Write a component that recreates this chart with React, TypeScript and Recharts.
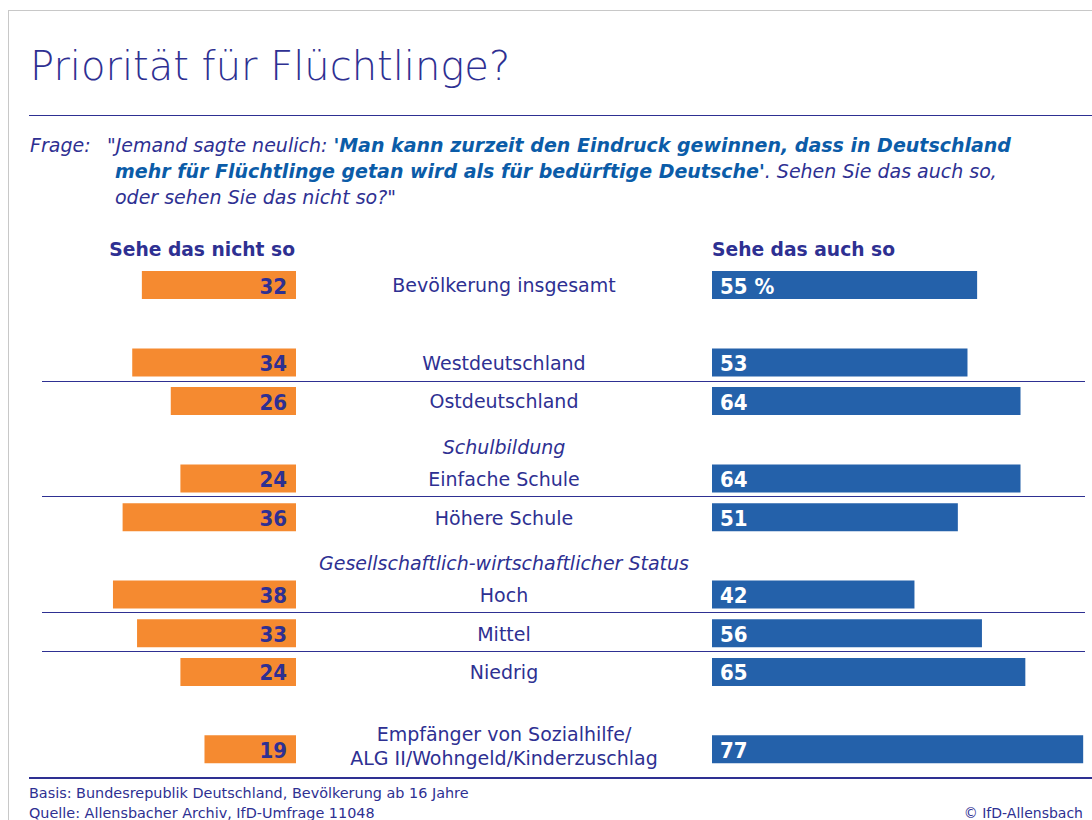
import React from "react";
import { BarChart, Bar, XAxis, YAxis, LabelList } from "recharts";

// rows top to bottom; "" = spacer row
const categories = [
  "Bevölkerung insgesamt",
  "",
  "Westdeutschland",
  "Ostdeutschland",
  "Schulbildung",
  "Einfache Schule",
  "Höhere Schule",
  "Gesellschaftlich-wirtschaftlicher Status",
  "Hoch",
  "Mittel",
  "Niedrig",
  "",
  "Empfänger von Sozialhilfe/\nALG II/Wohngeld/Kinderzuschlag",
];
const rowKinds = ["row", "gap", "row", "row", "header", "row", "row", "header", "row", "row", "row", "gap", "row"];
const nichtSo = [32, null, 34, 26, null, 24, 36, null, 38, 33, 24, null, 19];
const auchSo = [55, null, 53, 64, null, 64, 51, null, 42, 56, 65, null, 77];

const data = categories.map((c, i) => ({ id: i, label: c, nicht: nichtSo[i], auch: auchSo[i] }));

const INDIGO = "#2e3092";
const ORANGE = "#f58a30";
const BLUE = "#2461aa";
const FONT = "'DejaVu Sans', sans-serif";
const NUM_FONT = "'DejaVu Sans Condensed', 'DejaVu Sans', sans-serif";

const CHART_TOP = 266;
const CHART_H = 503;

const CenterTick = (props: any) => {
  const { x, y, payload } = props;
  const i = payload.value;
  const kind = rowKinds[i];
  const lines = categories[i].split("\n");
  const cx = x + 208;
  if (lines.length > 1) {
    return (
      <text x={cx} y={y} textAnchor="middle" fill={INDIGO} fontSize={19} fontFamily={FONT}>
        <tspan x={cx} dy={-16} dominantBaseline="central">{lines[0]}</tspan>
        <tspan x={cx} dy={24} dominantBaseline="central">{lines[1]}</tspan>
      </text>
    );
  }
  return (
    <text
      x={cx}
      y={kind === "header" ? y + 7 : y}
      textAnchor="middle"
      dominantBaseline="central"
      fill={INDIGO}
      fontSize={19}
      fontStyle={kind === "header" ? "italic" : "normal"}
      fontFamily={FONT}
    >
      {lines[0]}
    </text>
  );
};

const LeftValue = (props: any) => {
  const { x, y, width, height, value } = props;
  if (value == null) return null;
  const right = Math.max(x, x + width);
  return (
    <text x={right - 9} y={y + height / 2 + 1} textAnchor="end" dominantBaseline="central"
      fill={INDIGO} fontSize={22} fontWeight="bold" fontFamily={NUM_FONT}>
      {value}
    </text>
  );
};

const RightValue = (props: any) => {
  const { x, y, width, height, value, index } = props;
  if (value == null) return null;
  const left = Math.min(x, x + width);
  return (
    <text x={left + 8} y={y + height / 2 + 1} textAnchor="start" dominantBaseline="central"
      fill="#ffffff" fontSize={22} fontWeight="bold" fontFamily={NUM_FONT}>
      {index === 0 ? `${value} %` : value}
    </text>
  );
};

const rule = (top: number, left: number, width: number, h = 1) => (
  <div style={{ position: "absolute", top, left, width, height: h, background: INDIGO }} />
);

const q: React.CSSProperties = { position: "absolute", fontSize: 19, lineHeight: "26px", fontStyle: "italic", whiteSpace: "nowrap" };

export default function App() {
  return (
    <div style={{ position: "absolute", left: 0, top: 0, width: 1092, height: 820, overflow: "hidden", background: "#fff", fontFamily: FONT, color: INDIGO }}>
      {/* frame */}
      <div style={{ position: "absolute", left: 8, top: 10, width: 1200, height: 1000, border: "1.5px solid #c8c8c8" }} />

      {/* title */}
      <div style={{ position: "absolute", left: 30, top: 46, fontSize: 40, lineHeight: "40px", fontWeight: 200, whiteSpace: "nowrap" }}>
        Priorität für Flüchtlinge?
      </div>
      {rule(115, 29, 1070)}

      {/* question */}
      <div style={{ ...q, left: 30, top: 132 }}>Frage:</div>
      <div style={{ ...q, left: 107, top: 132 }}>
        "Jemand sagte neulich:{" "}
        <b style={{ color: "#0b5ca8" }}>'Man kann zurzeit den Eindruck gewinnen, dass in Deutschland</b>
      </div>
      <div style={{ ...q, left: 115, top: 158 }}>
        <b style={{ color: "#0b5ca8" }}>mehr für Flüchtlinge getan wird als für bedürftige Deutsche'</b>. Sehen Sie das auch so,
      </div>
      <div style={{ ...q, left: 115, top: 184 }}>oder sehen Sie das nicht so?"</div>

      {/* column heads */}
      <div style={{ position: "absolute", right: 1092 - 295, top: 240, fontSize: 18.7, lineHeight: "19px", fontWeight: "bold", whiteSpace: "nowrap" }}>
        Sehe das nicht so
      </div>
      <div style={{ position: "absolute", left: 712, top: 240, fontSize: 18.7, lineHeight: "19px", fontWeight: "bold", whiteSpace: "nowrap" }}>
        Sehe das auch so
      </div>

      {/* separators */}
      {rule(381, 42, 1043)}
      {rule(496, 42, 1043)}
      {rule(612, 42, 1043)}
      {rule(651, 42, 1043)}
      {rule(777, 29, 1070, 2)}

      {/* left: Sehe das nicht so */}
      <div style={{ position: "absolute", left: 0, top: CHART_TOP }}>
        <BarChart width={712} height={CHART_H} data={data} layout="vertical" barCategoryGap={0}
          margin={{ top: 0, right: 0, bottom: 0, left: 7 }}>
          <XAxis type="number" domain={[0, 60]} reversed hide />
          <YAxis type="category" dataKey="id" orientation="right" width={416}
            axisLine={false} tickLine={false} tickSize={0} tickMargin={0} tick={<CenterTick />} interval={0} />
          <Bar dataKey="nicht" fill={ORANGE} barSize={28} isAnimationActive={false}>
            <LabelList dataKey="nicht" content={<LeftValue />} />
          </Bar>
        </BarChart>
      </div>

      {/* right: Sehe das auch so */}
      <div style={{ position: "absolute", left: 712, top: CHART_TOP }}>
        <BarChart width={376} height={CHART_H} data={data} layout="vertical" barCategoryGap={0}
          margin={{ top: 0, right: 0, bottom: 0, left: 0 }}>
          <XAxis type="number" domain={[0, 78]} hide />
          <YAxis type="category" dataKey="id" hide />
          <Bar dataKey="auch" fill={BLUE} barSize={28} isAnimationActive={false}>
            <LabelList dataKey="auch" content={<RightValue />} />
          </Bar>
        </BarChart>
      </div>

      {/* footer */}
      <div style={{ position: "absolute", left: 29, top: 786, fontSize: 14.4, lineHeight: "14px", whiteSpace: "nowrap" }}>
        Basis: Bundesrepublik Deutschland, Bevölkerung ab 16 Jahre
      </div>
      <div style={{ position: "absolute", left: 29, top: 806, fontSize: 14.4, lineHeight: "14px", whiteSpace: "nowrap" }}>
        Quelle: Allensbacher Archiv, IfD-Umfrage 11048
      </div>
      <div style={{ position: "absolute", right: 9, top: 806, fontSize: 14, lineHeight: "14px", whiteSpace: "nowrap" }}>
        © IfD-Allensbach
      </div>
    </div>
  );
}
